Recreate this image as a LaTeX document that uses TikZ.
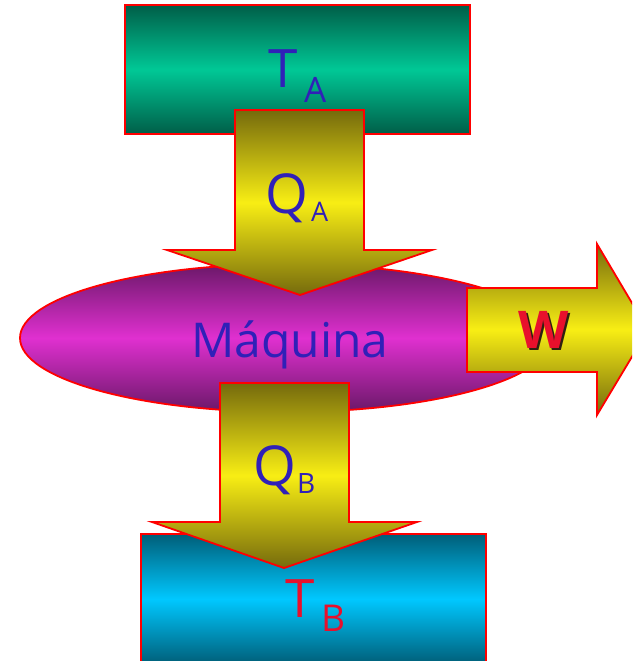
\documentclass[tikz,border=0pt]{standalone}
\usepackage{fontspec}
\setmainfont{Open Sans}
\definecolor{txtblue}{HTML}{3020B8}
\definecolor{txtred}{HTML}{E8102C}
\definecolor{edgered}{HTML}{FF0000}
\definecolor{tealdark}{HTML}{005E48}
\definecolor{teallight}{HTML}{00C896}
\definecolor{olivedark}{HTML}{756A0C}
\definecolor{yellowlight}{HTML}{F8EE14}
\definecolor{purpledark}{HTML}{6A1868}
\definecolor{magentalight}{HTML}{E030D0}
\definecolor{cyandark}{HTML}{005E78}
\definecolor{cyanlight}{HTML}{00C8FF}
\definecolor{shadowgray}{HTML}{302010}
\tikzset{
  shape outline/.style={draw=edgered, line width=1.8pt, line join=miter},
  tealbox/.style={shape outline, top color=tealdark, bottom color=tealdark, middle color=teallight},
  cyanbox/.style={shape outline, top color=cyandark, bottom color=cyandark, middle color=cyanlight},
  yellowarrow/.style={shape outline, top color=olivedark, bottom color=olivedark, middle color=yellowlight},
  purpleblob/.style={shape outline, top color=purpledark, bottom color=purpledark, middle color=magentalight},
  lbl/.style={inner sep=0pt, outer sep=0pt},
}
\begin{document}
\begin{tikzpicture}[x=1pt,y=-1pt]
\useasboundingbox (0,0) rectangle (632,661);
\clip (0,0) rectangle (632,661);
% hot reservoir
\path[tealbox] (125,5) rectangle (470,134);
% engine
\path[purpleblob] (286,338) ellipse [x radius=266, y radius=74];
% heat in
\path[yellowarrow] (235,110) -- (364,110) -- (364,250) -- (432,250) -- (300,295) -- (167,250) -- (235,250) -- cycle;
% work out
\path[yellowarrow] (467,288) -- (597,288) -- (597,244) -- (648,330) -- (597,415) -- (597,372) -- (467,372) -- cycle;
% cold reservoir
\path[cyanbox] (141,534) rectangle (486,664);
% heat out
\path[yellowarrow] (220,383) -- (349,383) -- (349,522) -- (417,522) -- (284,568) -- (152,522) -- (220,522) -- cycle;
% labels
\node[lbl, anchor=base west, text=txtblue] (ta) at (268,88) {\fontsize{53}{53}\selectfont T};
\node[lbl, anchor=base west, text=txtblue] (tasub) at (304,102) {\fontsize{35}{35}\selectfont A};
\node[lbl, anchor=base west, text=txtblue] (qa) at (265,213) {\fontsize{55}{55}\selectfont Q};
\node[lbl, anchor=base west, text=txtblue] (qasub) at (311,221) {\fontsize{27}{27}\selectfont A};
\node[lbl, anchor=base, text=txtblue] (maq) at (290,357) {\fontsize{48}{48}\selectfont Máquina};
\node[lbl, anchor=base, text=txtred] (w) at (543.5,348) {\fontsize{52}{52}\selectfont\bfseries\makebox[0pt][l]{\hspace{2.5pt}\raisebox{-2.5pt}{\textcolor{shadowgray}{W}}}W};
\node[lbl, anchor=base west, text=txtblue] (qb) at (253,485) {\fontsize{55}{55}\selectfont Q};
\node[lbl, anchor=base west, text=txtblue] (qbsub) at (297,493) {\fontsize{28}{28}\selectfont B};
\node[lbl, anchor=base west, text=txtred] (tb) at (285,617) {\fontsize{53}{53}\selectfont T};
\node[lbl, anchor=base west, text=txtred] (tbsub) at (321,631) {\fontsize{37}{37}\selectfont B};
\end{tikzpicture}
\end{document}
